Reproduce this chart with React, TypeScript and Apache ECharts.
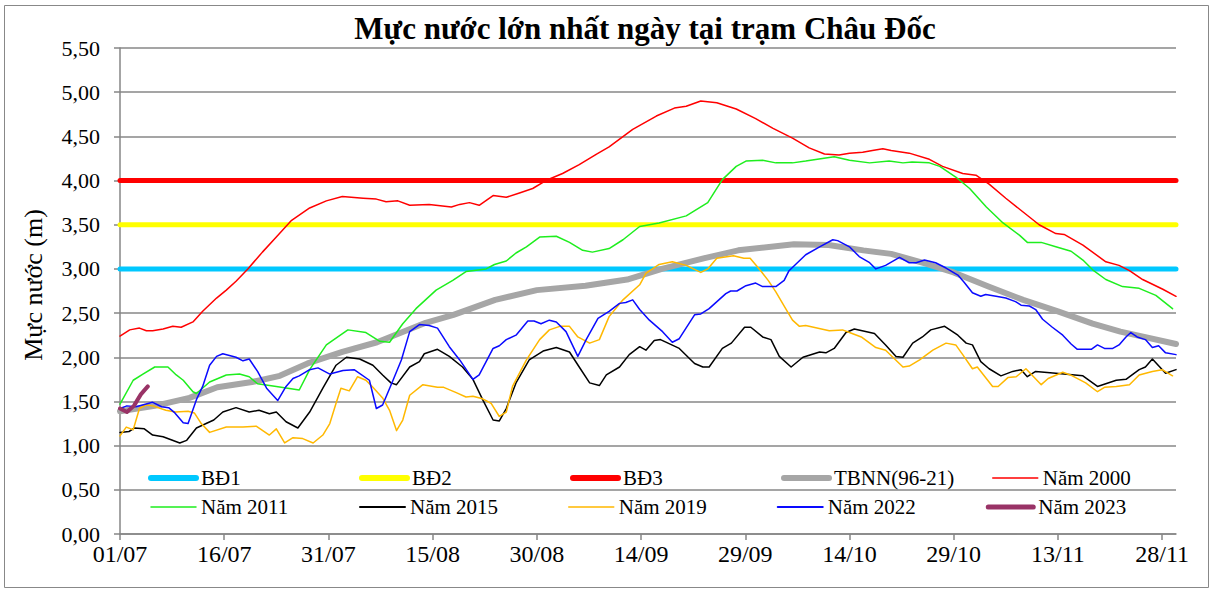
import React, { useEffect, useRef } from "react";
import * as echarts from "echarts";

const FONT = "'Liberation Serif', 'DejaVu Serif', serif";

const xTickDays = [0, 15, 30, 45, 60, 75, 90, 105, 120, 135, 150];
const xTickLabels = ["01/07", "16/07", "31/07", "15/08", "30/08", "14/09", "29/09", "14/10", "29/10", "13/11", "28/11"];
const xMaxDay = 152;

const bd1Value = 3.0;
const bd2Value = 3.5;
const bd3Value = 4.0;

const tbnn = [
  [0, 1.39], [5, 1.45], [10, 1.54], [14, 1.66], [19, 1.72], [23, 1.79], [27, 1.93], [32, 2.06], [37, 2.17],
  [44, 2.39], [48, 2.48], [54, 2.65], [60, 2.76], [67, 2.81], [73, 2.88], [78, 3.0], [84, 3.12], [89, 3.21],
  [97, 3.28], [102, 3.27], [107, 3.21], [111, 3.17], [116, 3.06], [120, 2.96], [125, 2.8], [130, 2.65],
  [135, 2.52], [140, 2.38], [144, 2.29], [152, 2.15],
];

const y2000 = [
  [0, 2.24], [1.4, 2.31], [2.8, 2.33], [3.8, 2.3], [4.7, 2.3], [6.2, 2.32], [7.6, 2.35], [8.8, 2.34], [10.5, 2.4],
  [11.9, 2.52], [13.9, 2.67], [15.3, 2.76], [16.7, 2.86], [18.4, 3.0], [20.5, 3.19], [22.5, 3.36], [24.7, 3.55],
  [27.3, 3.69], [29.7, 3.77], [32, 3.82], [35, 3.8], [36.9, 3.79], [38.3, 3.76], [40, 3.77], [41.7, 3.72],
  [44.5, 3.73], [47.7, 3.7], [48.9, 3.73], [50.3, 3.75], [51.7, 3.72], [53.7, 3.83], [55.6, 3.81], [57.5, 3.86],
  [59.4, 3.91], [61.3, 4.0], [63.7, 4.08], [66.1, 4.18], [68.6, 4.3], [70.4, 4.38], [73.8, 4.58], [77.2, 4.73],
  [79.8, 4.82], [81.5, 4.84], [83.6, 4.9], [85.9, 4.88], [88.7, 4.81], [91.5, 4.7], [94, 4.59], [96.8, 4.48],
  [99.2, 4.37], [101.4, 4.3], [103.5, 4.29], [105, 4.31], [106.9, 4.32], [108.3, 4.34], [109.8, 4.36], [111, 4.34],
  [113.6, 4.31], [116.5, 4.24], [118.4, 4.16], [121.3, 4.08], [123.2, 4.06], [125.1, 3.96], [127.5, 3.8],
  [129.9, 3.65], [132.3, 3.5], [134.7, 3.4], [135.9, 3.39], [138.6, 3.27], [141.9, 3.08], [143.8, 3.04],
  [145.3, 2.98], [147.2, 2.88], [150.1, 2.77], [152, 2.69],
];

const y2011 = [
  [0, 1.47], [1.9, 1.74], [3.3, 1.81], [5, 1.89], [6.9, 1.89], [8.1, 1.8], [9.1, 1.74], [10.5, 1.61], [11, 1.59],
  [12.9, 1.72], [15.3, 1.8], [17.2, 1.81], [18.6, 1.78], [19.8, 1.7], [22.5, 1.67], [25.8, 1.63], [27.3, 1.86],
  [29.7, 2.14], [32.8, 2.31], [35.4, 2.28], [37.4, 2.18], [38.8, 2.17], [40.7, 2.38], [42.6, 2.55], [45.5, 2.76],
  [47.9, 2.87], [49.8, 2.97], [52.7, 3.0], [53.9, 3.05], [55.6, 3.09], [57, 3.18], [58.5, 3.25], [60.4, 3.36],
  [62.8, 3.37], [64.7, 3.3], [66.6, 3.21], [68, 3.19], [70.4, 3.23], [72.4, 3.33], [74.8, 3.48], [77.6, 3.52],
  [81.5, 3.6], [84.6, 3.75], [86.7, 4.01], [88.7, 4.16], [90.1, 4.22], [92.5, 4.23], [94.4, 4.2], [96.8, 4.2],
  [98.7, 4.22], [101.1, 4.25], [102.8, 4.27], [105, 4.23], [107.9, 4.2], [110.7, 4.22], [112.7, 4.2], [114, 4.21],
  [116.5, 4.2], [118, 4.16], [120.3, 4.04], [122.3, 3.91], [124.7, 3.7], [127.1, 3.52], [129.5, 3.38],
  [130.6, 3.3], [132.6, 3.3], [134.7, 3.25], [136.9, 3.2], [138.6, 3.1], [140, 2.99], [141.9, 2.88],
  [144.3, 2.8], [146.7, 2.78], [149.1, 2.7], [151.5, 2.55],
];

const y2015 = [
  [0, 1.15], [1.3, 1.16], [2.1, 1.2], [3.5, 1.19], [4.7, 1.12], [6.2, 1.1], [8.6, 1.03], [9.6, 1.06], [11, 1.2],
  [12.4, 1.25], [13.5, 1.29], [14.8, 1.38], [16.7, 1.43], [18.6, 1.38], [20, 1.4], [21.5, 1.36], [22.5, 1.38],
  [23.9, 1.27], [25.6, 1.2], [27.3, 1.38], [29.2, 1.65], [31.1, 1.91], [32.6, 2.0], [34.5, 1.98], [36.4, 1.91],
  [37.8, 1.8], [39, 1.71], [39.8, 1.69], [41.7, 1.89], [43.1, 1.95], [43.8, 2.04], [45.7, 2.09], [47.4, 2.01],
  [49.3, 1.89], [50.8, 1.75], [52.2, 1.52], [53.7, 1.29], [54.6, 1.28], [55.6, 1.42], [57, 1.71], [58.9, 1.97],
  [60.9, 2.07], [62.8, 2.11], [64.7, 2.06], [66.1, 1.89], [67.6, 1.71], [69, 1.68], [70, 1.8], [71.9, 1.89],
  [73.3, 2.03], [74.8, 2.12], [75.7, 2.08], [76.9, 2.19], [77.8, 2.2], [80.5, 2.1], [82.7, 1.93], [83.9, 1.89],
  [84.8, 1.89], [86.7, 2.1], [88, 2.16], [89.9, 2.34], [90.8, 2.34], [92.5, 2.23], [93.7, 2.2], [94.9, 2.01],
  [96.6, 1.89], [98.3, 2.0], [100.7, 2.06], [101.6, 2.05], [102.8, 2.1], [104.5, 2.28], [105.7, 2.32],
  [108.6, 2.27], [110.2, 2.14], [111.7, 2.01], [112.7, 2.0], [114.1, 2.16], [115.5, 2.23], [116.7, 2.31],
  [118.7, 2.35], [120.6, 2.25], [121.8, 2.16], [122.7, 2.14], [123.9, 1.95], [125.1, 1.87], [126.8, 1.79],
  [128.5, 1.84], [129.7, 1.86], [130.6, 1.78], [131.8, 1.84], [134.7, 1.82], [138.6, 1.79], [140.7, 1.67],
  [143.4, 1.74], [144.8, 1.75], [146.7, 1.86], [147.6, 1.89], [148.6, 1.98], [150.5, 1.82], [152, 1.86],
];

const y2019 = [
  [0, 1.11], [0.9, 1.21], [1.9, 1.18], [2.8, 1.42], [3.7, 1.46], [4.7, 1.45], [6.6, 1.4], [8, 1.38], [9.8, 1.39],
  [10.7, 1.37], [11.7, 1.25], [12.9, 1.15], [15.3, 1.21], [17.7, 1.21], [19.6, 1.22], [21.5, 1.12], [22.5, 1.19],
  [23.7, 1.03], [24.9, 1.09], [26.3, 1.08], [27.8, 1.03], [29.2, 1.12], [30.2, 1.25], [31.1, 1.48], [31.8, 1.65],
  [33, 1.62], [34.2, 1.78], [35.4, 1.74], [36.4, 1.66], [37.8, 1.54], [38.8, 1.4], [39.8, 1.17], [40.7, 1.29],
  [41.7, 1.57], [43.6, 1.69], [45.7, 1.66], [46.6, 1.66], [48.4, 1.6], [49.8, 1.55], [50.8, 1.56], [52.2, 1.53],
  [53.4, 1.48], [54.6, 1.33], [55.6, 1.38], [56.5, 1.67], [58.5, 1.97], [60.4, 2.2], [61.8, 2.31], [63.3, 2.35],
  [64.7, 2.35], [65.9, 2.23], [67.6, 2.16], [69, 2.2], [70.4, 2.46], [72.4, 2.65], [74.8, 2.82], [75.7, 2.95],
  [77.6, 3.05], [79.5, 3.08], [81.5, 3.04], [83.6, 2.96], [84.6, 3.0], [85.9, 3.12], [88.3, 3.15], [89.8, 3.12],
  [90.7, 3.12], [92.1, 2.99], [93.3, 2.87], [94.4, 2.74], [95.9, 2.54], [96.8, 2.42], [97.8, 2.35], [98.7, 2.36],
  [102.1, 2.3], [104, 2.31], [105, 2.28], [106.7, 2.23], [108.8, 2.11], [110.2, 2.08], [112.7, 1.89],
  [113.6, 1.9], [115.1, 1.97], [117, 2.08], [118.9, 2.16], [120.3, 2.14], [121.3, 2.03], [122.7, 1.87],
  [123.4, 1.89], [125.6, 1.67], [126.4, 1.67], [127.8, 1.77], [129, 1.78], [130.4, 1.87], [132.6, 1.69],
  [133.6, 1.76], [135.7, 1.83], [136.8, 1.8], [139, 1.71], [140.7, 1.61], [141.7, 1.66], [143.4, 1.67],
  [145.3, 1.69], [146.7, 1.8], [148.6, 1.84], [150, 1.86], [151.5, 1.79],
];

const y2022 = [
  [0, 1.42], [1, 1.45], [2.3, 1.44], [4.7, 1.49], [6, 1.44], [7, 1.43], [7.9, 1.37], [9.1, 1.26], [9.8, 1.25],
  [11, 1.52], [11.9, 1.67], [12.9, 1.91], [13.9, 2.01], [14.8, 2.04], [16.7, 2.0], [17.7, 1.96], [18.6, 1.98],
  [19.8, 1.84], [21.1, 1.65], [22.7, 1.51], [23.9, 1.67], [24.9, 1.76], [25.8, 1.79], [27.3, 1.86], [28.5, 1.88],
  [30.2, 1.81], [32.1, 1.85], [33.7, 1.86], [35.9, 1.74], [36.9, 1.42], [37.8, 1.46], [39.3, 1.74], [40.5, 1.97],
  [41.7, 2.29], [43.1, 2.37], [44.5, 2.36], [45.7, 2.33], [47.4, 2.12], [48.9, 1.97], [50.8, 1.75], [51.7, 1.8],
  [53.7, 2.1], [54.6, 2.13], [55.6, 2.2], [57, 2.25], [58.7, 2.41], [59.6, 2.41], [60.6, 2.38], [61.8, 2.42],
  [62.8, 2.4], [64.2, 2.29], [65.9, 2.01], [67.1, 2.2], [68.8, 2.44], [70.4, 2.52], [71.9, 2.61], [72.8, 2.62],
  [73.8, 2.65], [74.8, 2.54], [76.2, 2.42], [78.1, 2.29], [79.5, 2.17], [80.5, 2.21], [82.7, 2.48], [83.6, 2.49],
  [84.8, 2.55], [87.2, 2.72], [87.9, 2.75], [88.8, 2.75], [90.1, 2.81], [91.5, 2.84], [92.5, 2.8], [94.4, 2.8],
  [95.6, 2.87], [96.3, 2.98], [98.7, 3.16], [100.7, 3.25], [102.6, 3.33], [103.3, 3.32], [105, 3.25],
  [106.4, 3.14], [107.9, 3.07], [108.8, 3.0], [110.2, 3.04], [112.2, 3.13], [113.6, 3.07], [114.6, 3.07],
  [115.8, 3.1], [117.4, 3.07], [118.9, 3.01], [120.6, 2.93], [121.5, 2.85], [122.7, 2.73], [123.9, 2.69],
  [124.6, 2.71], [126.1, 2.69], [127.5, 2.67], [128.9, 2.63], [129.7, 2.59], [130.9, 2.58], [131.8, 2.54],
  [132.8, 2.43], [134.2, 2.34], [135.7, 2.25], [136.9, 2.15], [137.8, 2.09], [139.8, 2.09], [140.7, 2.14],
  [141.7, 2.1], [142.9, 2.1], [143.8, 2.14], [144.8, 2.23], [145.5, 2.28], [146.4, 2.23], [147.6, 2.2],
  [148.6, 2.11], [149.5, 2.13], [150.5, 2.05], [152, 2.03],
];

const y2023 = [[0, 1.42], [1, 1.38], [2, 1.45], [3, 1.58], [4, 1.67]];

const seriesNames = ["BĐ1", "BĐ2", "BĐ3", "TBNN(96-21)", "Năm 2000", "Năm 2011", "Năm 2015", "Năm 2019", "Năm 2022", "Năm 2023"];
const seriesColors = ["#00C8FF", "#FFFF00", "#FF0000", "#A6A6A6", "#FF0000", "#1EEE1E", "#000000", "#FFB800", "#0A0AFF", "#993366"];
const seriesWidths = [5, 5, 5, 6, 1.5, 1.5, 1.5, 1.5, 1.5, 4];
const legendWidths = [6, 6, 6, 6, 1.5, 1.5, 2, 1.5, 2, 5];

export default function App() {
  const ref = useRef<HTMLDivElement>(null);
  useEffect(() => {
    if (!ref.current) return;
    const chart = echarts.init(ref.current, undefined, { renderer: "svg" });
    const flat = (v: number) => [[0, v], [xMaxDay, v]];
    const dataSets = [flat(bd1Value), flat(bd2Value), flat(bd3Value), tbnn, y2000, y2011, y2015, y2019, y2022, y2023];
    const series = dataSets.map((d, i) => ({
      name: seriesNames[i],
      type: "line",
      data: d,
      symbol: "none",
      showSymbol: false,
      smooth: false,
      lineStyle: { color: seriesColors[i], width: seriesWidths[i], cap: "round", join: "round" },
      itemStyle: { color: seriesColors[i] },
      emphasis: { disabled: true },
      z: 2 + i,
    }));
    chart.setOption({
      animation: false,
      backgroundColor: "#ffffff",
      grid: { left: 120, right: 43, top: 48, bottom: 57, containLabel: false },
      xAxis: {
        type: "value",
        min: 0,
        max: xMaxDay,
        interval: 15,
        axisLine: { show: true, lineStyle: { color: "#868686", width: 1.5 } },
        axisTick: { show: true, length: 6, customValues: xTickDays, lineStyle: { color: "#868686", width: 1.5 } },
        axisLabel: {
          customValues: xTickDays,
          margin: 8,
          color: "#000",
          fontFamily: FONT,
          fontSize: 24,
          formatter: (v: number) => {
            const i = xTickDays.indexOf(Math.round(v));
            return i >= 0 ? xTickLabels[i] : "";
          },
        },
        splitLine: { show: false },
      },
      yAxis: {
        type: "value",
        min: 0,
        max: 5.5,
        interval: 0.5,
        axisLine: { show: true, lineStyle: { color: "#868686", width: 1.5 } },
        axisTick: { show: true, length: 6, lineStyle: { color: "#868686", width: 1.5 } },
        axisLabel: {
          margin: 20,
          color: "#000",
          fontFamily: FONT,
          fontSize: 22,
          formatter: (v: number) => v.toFixed(2).replace(".", ","),
        },
        splitLine: { show: true, lineStyle: { color: "#878787", width: 1.5 } },
      },
      legend: {
        left: 148,
        top: 466,
        width: 1100,
        padding: 0,
        orient: "horizontal",
        itemWidth: 45,
        itemHeight: 14,
        itemGap: 5,
        selectedMode: false,
        itemStyle: { opacity: 0 },
        data: seriesNames.map((n, i) => ({
          name: n,
          itemStyle: { opacity: 0 },
          lineStyle: { color: seriesColors[i], width: legendWidths[i], cap: "round" },
        })),
        textStyle: { fontFamily: FONT, fontSize: 21, color: "#000", width: 153, lineHeight: 24 },
      },
      graphic: [
        {
          type: "rect",
          shape: { x: 4.5, y: 5.5, width: 1204, height: 582 },
          style: { fill: "none", stroke: "#888888", lineWidth: 1 },
          silent: true,
        },
        {
          type: "text",
          x: 645,
          y: 28,
          style: {
            text: "Mực nước lớn nhất ngày tại trạm Châu Đốc",
            fontFamily: FONT,
            fontWeight: "bold",
            fontSize: 31,
            fill: "#000",
            textAlign: "center",
            textVerticalAlign: "middle",
          },
        },
        {
          type: "text",
          x: 33,
          y: 285,
          rotation: Math.PI / 2,
          style: {
            text: "Mực nước (m)",
            fontFamily: FONT,
            fontSize: 26,
            fill: "#000",
            textAlign: "center",
            textVerticalAlign: "middle",
          },
        },
      ],
      series,
    });
    return () => chart.dispose();
  }, []);
  return <div ref={ref} style={{ position: "fixed", left: 0, top: 0, width: 1219, height: 591 }} />;
}
